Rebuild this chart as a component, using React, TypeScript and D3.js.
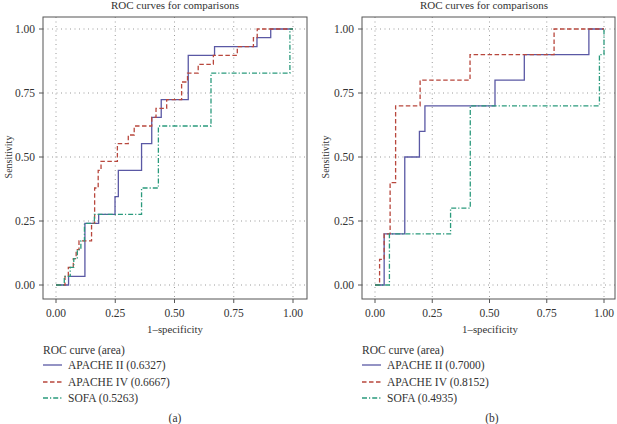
import React from "react";
import * as d3 from "d3";

const ticks = [0, 0.25, 0.5, 0.75, 1];
const tickLabels = ["0.00", "0.25", "0.50", "0.75", "1.00"];
const seriesNames = ["APACHE II", "APACHE IV", "SOFA"];

// Panel (a)
const aApache2Fpr = [0, 0.053, 0.122, 0.18, 0.249, 0.263, 0.361, 0.404, 0.444, 0.558, 0.669, 0.848, 0.906, 1];
const aApache2Tpr = [0, 0.034, 0.241, 0.276, 0.345, 0.448, 0.552, 0.655, 0.724, 0.897, 0.931, 0.966, 1, 1];
const aApache4Fpr = [0, 0.038, 0.052, 0.073, 0.085, 0.097, 0.15, 0.163, 0.178, 0.19, 0.259, 0.305, 0.33, 0.404, 0.422, 0.467, 0.53, 0.555, 0.6, 0.664, 0.765, 0.833, 0.849, 1];
const aApache4Tpr = [0, 0.034, 0.069, 0.103, 0.138, 0.172, 0.241, 0.379, 0.448, 0.483, 0.552, 0.586, 0.621, 0.655, 0.69, 0.724, 0.793, 0.828, 0.862, 0.897, 0.931, 0.966, 1, 1];
const aSofaFpr = [0, 0.035, 0.06, 0.075, 0.09, 0.105, 0.12, 0.162, 0.361, 0.432, 0.654, 0.987, 1];
const aSofaTpr = [0, 0.034, 0.069, 0.103, 0.138, 0.172, 0.241, 0.276, 0.379, 0.621, 0.828, 1, 1];
const aAreas = ["0.6327", "0.6667", "0.5263"];

// Panel (b)
const bApache2Fpr = [0, 0.04, 0.13, 0.194, 0.218, 0.524, 0.652, 0.934, 1];
const bApache2Tpr = [0, 0.2, 0.5, 0.6, 0.7, 0.8, 0.9, 1, 1];
const bApache4Fpr = [0, 0.02, 0.04, 0.066, 0.09, 0.197, 0.415, 0.782, 1];
const bApache4Tpr = [0, 0.1, 0.2, 0.4, 0.7, 0.8, 0.9, 1, 1];
const bSofaFpr = [0, 0.063, 0.33, 0.416, 0.98, 1];
const bSofaTpr = [0, 0.2, 0.3, 0.7, 0.9, 1];
const bAreas = ["0.7000", "0.8152", "0.4935"];

const colors = ["#5a58a4", "#b8473d", "#2a9a7c"];
const dashes = ["none", "4.5,2.5", "5,2,1.2,2"];
const FONT = "'Liberation Serif', 'DejaVu Serif', serif";

type PanelProps = {
  frameX: [number, number];
  xr: [number, number];
  titleX: number;
  xLabelX: number;
  yLabelX: number;
  legendX: number;
  tagX: number;
  tag: string;
  series: { fpr: number[]; tpr: number[] }[];
  areas: string[];
};

function Panel(p: PanelProps) {
  const x = d3.scaleLinear().domain([0, 1]).range(p.xr);
  const y = d3.scaleLinear().domain([0, 1]).range([285, 29]);
  const frameY: [number, number] = [17, 299];
  const line = d3
    .line<[number, number]>()
    .x((d) => x(d[0]))
    .y((d) => y(d[1]))
    .curve(d3.curveStepAfter);
  const legendY = [365, 382, 398];
  return (
    <g fontFamily={FONT}>
      <text x={p.titleX} y={9} textAnchor="middle" fontSize={11} fill="#333">
        ROC curves for comparisons
      </text>
      {ticks.map((t, i) => (
        <g key={"g" + i}>
          <line x1={x(t)} x2={x(t)} y1={frameY[0]} y2={frameY[1]} stroke="#9a9a9a" strokeWidth={1} strokeDasharray="1,3.5" />
          <line x1={p.frameX[0]} x2={p.frameX[1]} y1={y(t)} y2={y(t)} stroke="#9a9a9a" strokeWidth={1} strokeDasharray="1,3.5" />
        </g>
      ))}
      {p.series.map((s, i) => (
        <path
          key={"s" + i}
          d={line(s.fpr.map((f, j) => [f, s.tpr[j]] as [number, number])) || ""}
          fill="none"
          stroke={colors[i]}
          strokeWidth={1.3}
          strokeDasharray={dashes[i]}
        />
      ))}
      <rect
        x={p.frameX[0]}
        y={frameY[0]}
        width={p.frameX[1] - p.frameX[0]}
        height={frameY[1] - frameY[0]}
        fill="none"
        stroke="#555"
        strokeWidth={1}
      />
      {ticks.map((t, i) => (
        <g key={"t" + i}>
          <line x1={x(t)} x2={x(t)} y1={frameY[1]} y2={frameY[1] + 4} stroke="#555" />
          <text x={x(t)} y={313} textAnchor="middle" dominantBaseline="central" fontSize={11.5} fill="#333">
            {tickLabels[i]}
          </text>
          <line x1={p.frameX[0] - 4} x2={p.frameX[0]} y1={y(t)} y2={y(t)} stroke="#555" />
          <text x={p.frameX[0] - 8} y={y(t)} textAnchor="end" dominantBaseline="central" fontSize={11.5} fill="#333">
            {tickLabels[i]}
          </text>
        </g>
      ))}
      <text x={p.xLabelX} y={329} textAnchor="middle" dominantBaseline="central" fontSize={10.8} fill="#333">
        1–specificity
      </text>
      <text
        transform={`translate(${p.yLabelX},157) rotate(-90)`}
        textAnchor="middle"
        dominantBaseline="central"
        fontSize={10}
        fill="#333"
      >
        Sensitivity
      </text>
      <text x={p.legendX} y={350} dominantBaseline="central" fontSize={11.5} fill="#333">
        ROC curve (area)
      </text>
      {seriesNames.map((n, i) => (
        <g key={"l" + i}>
          <line
            x1={p.legendX}
            x2={p.legendX + 19}
            y1={legendY[i]}
            y2={legendY[i]}
            stroke={colors[i]}
            strokeWidth={1.3}
            strokeDasharray={dashes[i]}
          />
          <text x={p.legendX + 25} y={legendY[i]} dominantBaseline="central" fontSize={11.5} fill="#333">
            {n} ({p.areas[i]})
          </text>
        </g>
      ))}
      <text x={p.tagX} y={418} textAnchor="middle" dominantBaseline="central" fontSize={11.5} fill="#333">
        {p.tag}
      </text>
    </g>
  );
}

export default function App() {
  return (
    <svg width={617} height={424} style={{ display: "block", position: "absolute", left: 0, top: 0, background: "#fff" }}>
      <rect width={617} height={424} fill="#fff" />
      <Panel
        frameX={[43, 307]}
        xr={[56, 293]}
        titleX={175}
        xLabelX={175}
        yLabelX={8}
        legendX={43}
        tagX={175}
        tag="(a)"
        series={[
          { fpr: aApache2Fpr, tpr: aApache2Tpr },
          { fpr: aApache4Fpr, tpr: aApache4Tpr },
          { fpr: aSofaFpr, tpr: aSofaTpr },
        ]}
        areas={aAreas}
      />
      <Panel
        frameX={[362, 615]}
        xr={[375, 604]}
        titleX={484}
        xLabelX={490}
        yLabelX={325}
        legendX={362}
        tagX={492}
        tag="(b)"
        series={[
          { fpr: bApache2Fpr, tpr: bApache2Tpr },
          { fpr: bApache4Fpr, tpr: bApache4Tpr },
          { fpr: bSofaFpr, tpr: bSofaTpr },
        ]}
        areas={bAreas}
      />
    </svg>
  );
}
